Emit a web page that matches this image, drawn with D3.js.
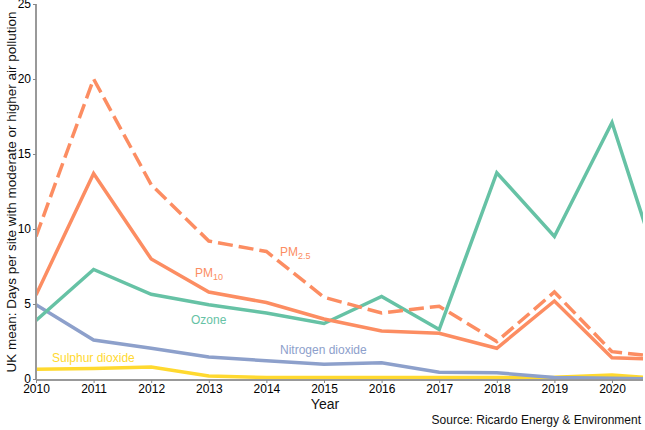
<!DOCTYPE html>
<html><head><meta charset="utf-8">
<script src="https://cdn.jsdelivr.net/npm/d3@7"></script>
<style>body{margin:0;background:#fff}svg{display:block;font-family:"Liberation Sans",Arial,sans-serif}</style>
</head><body><svg id="c" width="645" height="430"></svg>
<script>
const years = [2010,2011,2012,2013,2014,2015,2016,2017,2018,2019,2020,2021];
const ozone = [3.9,7.3,5.65,4.95,4.4,3.7,5.5,3.3,13.75,9.5,17.1,5.2];
const pm10 = [5.6,13.7,8.0,5.8,5.1,4.0,3.2,3.05,2.05,5.2,1.42,1.3];
const pm25 = [9.5,20.0,12.95,9.2,8.5,5.45,4.4,4.85,2.5,5.8,1.82,1.4];
const no2 = [4.95,2.6,2.05,1.47,1.22,0.98,1.08,0.45,0.42,0.1,0.05,0.0];
const so2 = [0.65,0.7,0.8,0.2,0.1,0.1,0.1,0.1,0.1,0.12,0.27,0.0];
const yTicks = [0,5,10,15,20,25];
const xTicks = [2010,2011,2012,2013,2014,2015,2016,2017,2018,2019,2020];

const svg = d3.select("#c");
const x = d3.scaleLinear().domain([2010,2021]).range([36,36+11*57.6]);
const y = d3.scaleLinear().domain([0,25]).range([379,4]);

svg.append("defs").append("clipPath").attr("id","clip")
  .append("rect").attr("x",36).attr("y",0).attr("width",643-36).attr("height",380);

const series = [
  {v:so2, c:"#ffd92f", dash:null},
  {v:no2, c:"#8da0cb", dash:null},
  {v:ozone, c:"#66c2a5", dash:null},
  {v:pm10, c:"#fc8d62", dash:null},
  {v:pm25, c:"#fc8d62", dash:"15,6"}
];
const line = d3.line().x((d,i)=>x(years[i])).y(d=>y(d));
const g = svg.append("g").attr("clip-path","url(#clip)");
series.forEach(s=>{
  g.append("path").datum(s.v).attr("d",line).attr("fill","none")
   .attr("stroke",s.c).attr("stroke-width",3.5).attr("stroke-linejoin","miter")
   .attr("stroke-dasharray",s.dash);
});

// axes
const yAxis = svg.append("g").attr("transform","translate(36,0)")
  .call(d3.axisLeft(y).tickValues(yTicks).tickSize(3).tickPadding(2));
const xAxis = svg.append("g").attr("transform","translate(0,380)")
  .call(d3.axisBottom(x).tickValues(xTicks).tickFormat(d3.format("d")).tickSize(3).tickPadding(1));
[yAxis,xAxis].forEach(a=>{
  a.selectAll("text").attr("font-size",12).attr("fill","#000").attr("font-family","Liberation Sans, Arial, sans-serif");
  a.selectAll("line").attr("stroke","#888");
});
yAxis.select(".domain").attr("stroke","#999").attr("stroke-width",2).attr("d","M0,380V4");
xAxis.select(".domain").attr("stroke","#999").attr("stroke-width",2).attr("d","M36,0H643");

// labels
const lab = svg.append("g").attr("font-size",12);
lab.append("text").attr("x",52).attr("y",362).attr("fill","#ffd92f").text("Sulphur dioxide");
lab.append("text").attr("x",280).attr("y",354).attr("fill","#8da0cb").text("Nitrogen dioxide");
lab.append("text").attr("x",191).attr("y",324).attr("fill","#66c2a5").text("Ozone");
const t10 = lab.append("text").attr("x",195).attr("y",277).attr("fill","#fc8d62");
t10.append("tspan").text("PM");
t10.append("tspan").attr("font-size",9).attr("dy",3).text("10");
const t25 = lab.append("text").attr("x",280).attr("y",256).attr("fill","#fc8d62");
t25.append("tspan").text("PM");
t25.append("tspan").attr("font-size",9).attr("dy",3).text("2.5");

svg.append("text").attr("transform","translate(16,192) rotate(-90)").attr("text-anchor","middle")
  .attr("font-size",13.5).attr("fill","#111").text("UK mean: Days per site with moderate or higher air pollution");
svg.append("text").attr("x",325).attr("y",409).attr("text-anchor","middle").attr("font-size",14).attr("fill","#111").text("Year");
svg.append("text").attr("x",641).attr("y",424).attr("text-anchor","end").attr("font-size",12).attr("fill","#111").text("Source: Ricardo Energy & Environment");
</script></body></html>
